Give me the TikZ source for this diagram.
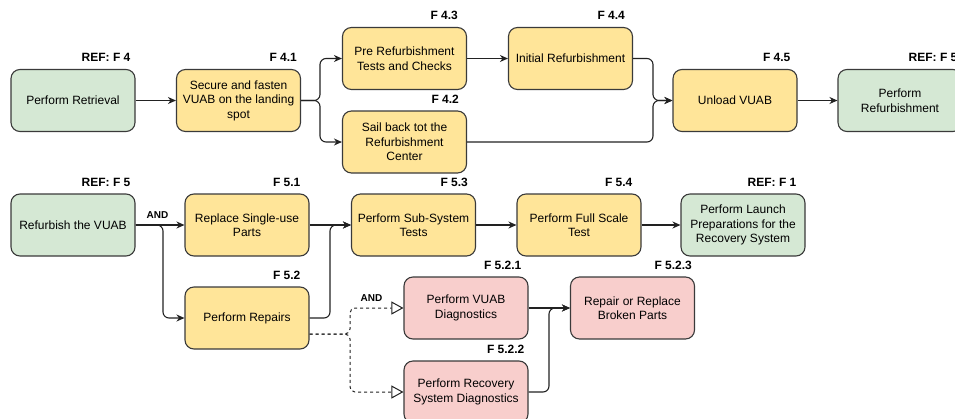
\documentclass[tikz,border=0pt]{standalone}
\usepackage{fontspec}
\setmainfont{Liberation Sans}
\usetikzlibrary{arrows.meta}
\definecolor{gfill}{HTML}{D5E8D4}
\definecolor{yfill}{HTML}{FFE599}
\definecolor{pfill}{HTML}{F8CECC}
\definecolor{bordc}{HTML}{3A3A3A}
\definecolor{linec}{HTML}{222222}
\begin{document}
\begin{tikzpicture}[x=1pt,y=-1pt,
  box/.style={draw=bordc, line width=1.1pt, rounded corners=9pt, minimum width=124pt, minimum height=62pt, align=center, inner sep=2pt, font=\fontsize{12}{14.5}\selectfont},
  gbox/.style={box, fill=gfill},
  ybox/.style={box, fill=yfill},
  pbox/.style={box, fill=pfill},
  lbl/.style={font=\bfseries\fontsize{12}{14}\selectfont, inner sep=0pt, anchor=base east},
  andlbl/.style={font=\bfseries\fontsize{10}{12}\selectfont, inner sep=0pt},
  conn/.style={draw=linec, line width=1.1pt, rounded corners=6pt, -{Stealth[length=8pt,width=7pt,inset=2.5pt]}},
  dconn/.style={draw=linec, line width=1pt, dash pattern=on 3pt off 3pt, rounded corners=5pt, -{Triangle[fill=white, length=12pt, width=13pt, line width=1pt]}}
]
\useasboundingbox (0,0) rectangle (955,418);
\clip (0,0) rectangle (955,418);
% row 1
\node[gbox] (ret) at (73,100.5) {Perform Retrieval};
\node[ybox] (sec) at (238.5,100.5) {Secure and fasten\\VUAB on the landing\\spot};
\node[ybox] (pre) at (404.5,58.5) {Pre Refurbishment\\Tests and Checks};
\node[ybox] (sail) at (404.5,142) {Sail back tot the\\Refurbishment\\Center};
\node[ybox] (init) at (570.5,58.5) {Initial Refurbishment};
\node[ybox] (unl) at (735,100.5) {Unload VUAB};
\node[gbox] (perf) at (900,100.5) {Perform\\Refurbishment};
% row 2
\node[gbox] (refu) at (73,225) {Refurbish the VUAB};
\node[ybox] (repl) at (247,225) {Replace Single-use\\Parts};
\node[ybox] (rep) at (247,318) {Perform Repairs};
\node[ybox] (sub) at (413.5,225) {Perform Sub-System\\Tests};
\node[ybox] (full) at (579,225) {Perform Full Scale\\Test};
\node[gbox] (laun) at (743,225) {Perform Launch\\Preparations for the\\Recovery System};
% row 3
\node[pbox] (vd) at (466,308) {Perform VUAB\\Diagnostics};
\node[pbox] (rr) at (632.5,308) {Repair or Replace\\Broken Parts};
\node[pbox] (rd) at (466,392) {Perform Recovery\\System Diagnostics};
% labels
\node[lbl] (l1) at ([xshift=-5pt,yshift=7pt]ret.north east) {REF: F 4};
\node[lbl] (l2) at ([xshift=-4pt,yshift=7pt]sec.north east) {F 4.1};
\node[lbl] (l3) at ([xshift=-9pt,yshift=7pt]pre.north east) {F 4.3};
\node[lbl] (l4) at ([xshift=-8pt,yshift=7pt]sail.north east) {F 4.2};
\node[lbl] (l5) at ([xshift=-8pt,yshift=7pt]init.north east) {F 4.4};
\node[lbl] (l6) at ([xshift=-7pt,yshift=7pt]unl.north east) {F 4.5};
\node[lbl] (l7) at ([xshift=-5pt,yshift=7pt]perf.north east) {REF: F 5};
\node[lbl] (l8) at ([xshift=-5pt,yshift=7pt]refu.north east) {REF: F 5};
\node[lbl] (l9) at ([xshift=-9pt,yshift=7pt]repl.north east) {F 5.1};
\node[lbl] (l10) at ([xshift=-9pt,yshift=7pt]rep.north east) {F 5.2};
\node[lbl] (l11) at ([xshift=-8pt,yshift=7pt]sub.north east) {F 5.3};
\node[lbl] (l12) at ([xshift=-9pt,yshift=7pt]full.north east) {F 5.4};
\node[lbl] (l13) at ([xshift=-9pt,yshift=7pt]laun.north east) {REF: F 1};
\node[lbl] (l14) at ([xshift=-7pt,yshift=7pt]vd.north east) {F 5.2.1};
\node[lbl] (l15) at ([xshift=-4pt,yshift=7pt]rd.north east) {F 5.2.2};
\node[lbl] (l16) at ([xshift=-3pt,yshift=7pt]rr.north east) {F 5.2.3};
\node[andlbl] (and1) at (157.5,215) {AND};
\node[andlbl] (and2) at (371.5,298) {AND};
% junctions
\coordinate (j1) at (320,100.5);
\coordinate (m4) at (653,100.5);
\coordinate (j2) at (163,225);
\coordinate (j3) at (330,225);
\coordinate (ds) at ([yshift=-16pt]rep.east);
\coordinate (j4) at (350,334);
\coordinate (j5) at (549,308);
% connectors row 1
\draw[conn] (ret.east) -- (sec.west);
\draw[conn] (sec.east) -- (j1) |- (pre.west);
\draw[conn] (sec.east) -- (j1) |- (sail.west);
\draw[conn] (pre.east) -- (init.west);
\draw[conn] (init.east) -| (m4) -- (unl.west);
\draw[conn] (sail.east) -| (m4) -- (unl.west);
\draw[conn] (unl.east) -- (perf.west);
% row 2
\draw[conn] (refu.east) -- (repl.west);
\draw[conn] (refu.east) -- (j2) |- (rep.west);
\draw[conn] (repl.east) -- (sub.west);
\draw[conn] (rep.east) -| (j3) -- (sub.west);
\draw[conn] (sub.east) -- (full.west);
\draw[conn] (full.east) -- (laun.west);
% row 3
\draw[dconn] (ds) -- (j4) |- (vd.west);
\draw[dconn] (ds) -- (j4) |- (rd.west);
\draw[conn] (vd.east) -- (rr.west);
\draw[conn] (rd.east) -| (j5) -- (rr.west);
\end{tikzpicture}
\end{document}
